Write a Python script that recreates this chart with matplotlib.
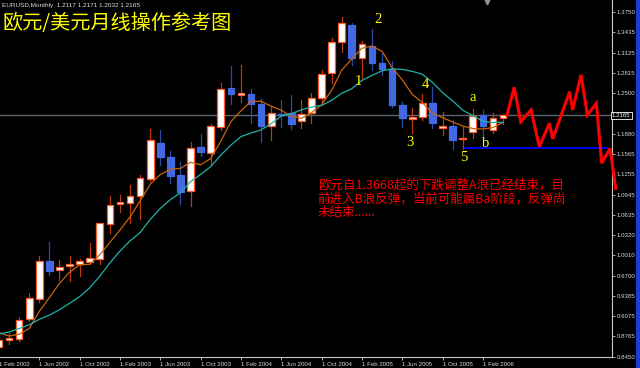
import matplotlib
matplotlib.use("Agg")
import matplotlib.pyplot as plt
from matplotlib.patches import Rectangle

######################################################################
# data (month 0 = Feb 2002)
######################################################################

months = list(range(51))
opens = [0.8610, 0.8712, 0.8732, 0.9030, 0.9337, 0.9930, 0.9780, 0.9850, 0.9880, 0.9915,
         0.9956, 1.0500, 1.0796, 1.0820, 1.0928, 1.1190, 1.1733, 1.1528, 1.1246, 1.0996,
         1.1673, 1.1590, 1.1988, 1.2578, 1.2474, 1.2494, 1.2330, 1.1999, 1.2178, 1.2194,
         1.2080, 1.2194, 1.2434, 1.2809, 1.3284, 1.3550, 1.3048, 1.3228, 1.2971, 1.2870,
         1.2322, 1.2102, 1.2133, 1.2347, 1.1964, 1.1999, 1.1795, 1.1902, 1.2168, 1.1938,
         1.2117]
highs = [0.8750, 0.8820, 0.9070, 0.9434, 1.0007, 1.0222, 0.9940, 1.0007, 0.9960, 1.0202,
         1.0510, 1.0924, 1.0939, 1.1093, 1.1240, 1.1950, 1.1937, 1.1620, 1.1440, 1.1750,
         1.1876, 1.2030, 1.2664, 1.2920, 1.2930, 1.2563, 1.2409, 1.2296, 1.2397, 1.2475,
         1.2398, 1.2510, 1.2859, 1.3346, 1.3678, 1.3586, 1.3300, 1.3484, 1.3116, 1.2990,
         1.2363, 1.2276, 1.2491, 1.2603, 1.2219, 1.2084, 1.1990, 1.2260, 1.2245, 1.2203,
         1.2171]
lows = [0.8570, 0.8650, 0.8700, 0.9000, 0.9300, 0.9710, 0.9634, 0.9620, 0.9700, 0.9880,
        0.9880, 1.0350, 1.0680, 1.0504, 1.0566, 1.1150, 1.1400, 1.1120, 1.0796, 1.0770,
        1.1540, 1.1400, 1.1940, 1.2337, 1.2370, 1.2050, 1.1758, 1.1780, 1.1988, 1.1950,
        1.1970, 1.2040, 1.2348, 1.2660, 1.3140, 1.2936, 1.2730, 1.2860, 1.2782, 1.2290,
        1.1990, 1.1887, 1.2090, 1.1965, 1.1860, 1.1640, 1.1650, 1.1810, 1.1835, 1.1887,
        1.2032]
closes = [0.8712, 0.8747, 0.9019, 0.9352, 0.9925, 0.9776, 0.9830, 0.9880, 0.9920, 0.9966,
          1.0504, 1.0786, 1.0827, 1.0928, 1.1195, 1.1784, 1.1528, 1.1236, 1.0990, 1.1666,
          1.1595, 1.2004, 1.2567, 1.2486, 1.2499, 1.2337, 1.1999, 1.2194, 1.2168, 1.2030,
          1.2190, 1.2434, 1.2798, 1.3284, 1.3576, 1.3048, 1.3258, 1.2971, 1.2875, 1.2322,
          1.2117, 1.2133, 1.2347, 1.2040, 1.1999, 1.1784, 1.1819, 1.2157, 1.2000, 1.2117,
          1.2165]

# moving averages as drawn (orange fast, teal slow)
ma_fast = [0.8824, 0.8772, 0.8798, 0.8888, 0.9151, 0.9364, 0.9580, 0.9753, 0.9866, 0.9874,
           1.0020, 1.0211, 1.0401, 1.0602, 1.0848, 1.1104, 1.1252, 1.1334, 1.1347, 1.1441,
           1.1403, 1.1498, 1.1764, 1.2064, 1.2230, 1.2379, 1.2378, 1.2303, 1.2239, 1.2146,
           1.2116, 1.2203, 1.2324, 1.2547, 1.2856, 1.3028, 1.3193, 1.3227, 1.3146, 1.2895,
           1.2709, 1.2484, 1.2359, 1.2192, 1.2127, 1.2061, 1.1998, 1.1960, 1.1952, 1.1975,
           1.2052]
ma_slow = [0.8805, 0.8834, 0.8887, 0.8946, 0.9028, 0.9094, 0.9176, 0.9275, 0.9377, 0.9513,
           0.9692, 0.9896, 1.0077, 1.0234, 1.0361, 1.0562, 1.0732, 1.0867, 1.0974, 1.1144,
           1.1254, 1.1375, 1.1549, 1.1705, 1.1836, 1.1891, 1.1938, 1.2034, 1.2152, 1.2188,
           1.2247, 1.2290, 1.2314, 1.2393, 1.2501, 1.2572, 1.2698, 1.2776, 1.2846, 1.2876,
           1.2868, 1.2838, 1.2793, 1.2669, 1.2511, 1.2385, 1.2241, 1.2159, 1.2072, 1.2051,
           1.2056]

# hand drawn forecast zigzag and support line
proj_m = [50.4, 51.1, 51.76, 52.78, 53.6, 54.6, 54.93, 56.6, 56.9, 57.74, 58.37, 59.26, 59.79, 60.62, 61.18]
proj_p = [1.2168, 1.2593, 1.2065, 1.2245, 1.1681, 1.2040, 1.1799, 1.2526, 1.2245, 1.2782,
          1.2168, 1.2348, 1.1426, 1.1656, 1.1040]
support_m = [46.2, 60.3]
support_p = [1.1656, 1.1656]

wave_labels = ["1", "2", "3", "4", "5", "a", "b"]
wave_m = [35.7, 37.63, 40.77, 42.29, 46.06, 46.96, 48.31]
wave_p = [1.2675, 1.3638, 1.1738, 1.2629, 1.1518, 1.2435, 1.1722]

xtick_m = [0, 4, 8, 12, 16, 20, 24, 28, 32, 36, 40, 44, 48]
xtick_labels = ["1 Feb 2002", "1 Jun 2002", "1 Oct 2002", "1 Feb 2003", "1 Jun 2003",
                "1 Oct 2003", "1 Feb 2004", "1 Jun 2004", "1 Oct 2004", "1 Feb 2005",
                "1 Jun 2005", "1 Oct 2005", "1 Feb 2006"]
ytick_vals = [1.3750, 1.3435, 1.3125, 1.2815, 1.2500, 1.1880, 1.1565, 1.1255, 1.0945,
              1.0635, 1.0320, 1.0010, 0.9700, 0.9385, 0.9075, 0.8765, 0.8450]
last_price = 1.2165

note_lines = ["欧元自1.3668起的下跌调整A浪已经结束，目",
              "前进入B浪反弹，当前可能属Ba阶段，反弹尚",
              "未结束......"]

######################################################################
# figure
######################################################################

plt.rcParams['font.family'] = ['Liberation Sans', 'DejaVu Sans']

fig = plt.figure(figsize=(6.4, 3.68), dpi=100, facecolor='black')
ax = fig.add_axes([-1/640, 11/368, 613/640, 357/368])
ax.set_facecolor('black')
ax.set_xlim(0, 60.81)
ax.set_ylim(0.845, 1.3934)

# current price line
ax.axhline(last_price, color='#5a6470', lw=1.0, zorder=1)

# candles
w = 0.66
for m, o, h, l, c in zip(months, opens, highs, lows, closes):
    if c >= o:
        ax.plot([m, m], [l, h], color='#c0380c', lw=0.9, zorder=2)
        ax.add_patch(Rectangle((m - w/2, o), w, max(c - o, 0.002), fc='white',
                               ec='#ff5a28', lw=0.9, zorder=3))
    else:
        ax.plot([m, m], [l, h], color='#2c4aa8', lw=0.9, zorder=2)
        ax.add_patch(Rectangle((m - w/2, c), w, max(o - c, 0.002), fc='#4169e1',
                               ec='#4169e1', lw=0.9, zorder=3))

ax.plot(months, ma_fast, color='#c8640c', lw=0.9, zorder=4)
ax.plot(months, ma_slow, color='#20b2aa', lw=0.9, zorder=4)

ax.plot(support_m, support_p, color='#0000ff', lw=1.3, zorder=5)
ax.plot(proj_m, proj_p, color='#ff0000', lw=2.2, zorder=6, clip_on=False,
        solid_joinstyle='miter')

for t, m, p in zip(wave_labels, wave_m, wave_p):
    ax.text(m, p, t, color='#ffff00', fontsize=10.5, family='Liberation Serif',
            ha='center', va='center', zorder=7)

note_y = [1.1093, 1.0873, 1.0667]
for line, y in zip(note_lines, note_y):
    ax.text(31.62, y, line, color='#ff0000', fontsize=9, family=['Noto Sans CJK SC'],
            ha='left', va='center', zorder=7)

# axes styling like the terminal
for s in ['left', 'top']:
    ax.spines[s].set_visible(False)
ax.spines['right'].set_color('#c8c8c8')
ax.spines['bottom'].set_color('#c8c8c8')
ax.spines['right'].set_linewidth(0.8)
ax.spines['bottom'].set_linewidth(0.8)

ax.yaxis.tick_right()
ax.set_yticks(ytick_vals)
ax.set_yticklabels(["%.4f" % v for v in ytick_vals])
ax.set_xticks(xtick_m)
ax.set_xticklabels(xtick_labels, ha='left')
ax.tick_params(axis='both', colors='#c8c8c8', labelcolor='#d8d8d8', labelsize=4.4,
               length=2.5, width=0.6, pad=1)

ax.text(1.0, last_price, "%.4f" % last_price, transform=ax.get_yaxis_transform(),
        color='white', fontsize=4.4, ha='left', va='center',
        bbox=dict(fc='black', ec='white', lw=0.6, pad=0.8), zorder=8, clip_on=False)

# chart shift marker
ax.plot([48.4], [1.391], marker='v', color='#909090', ms=3.5, clip_on=False)

# title and header
fig.text(2/640, 1 - 5/368, "EURUSD,Monthly  1.2117 1.2171 1.2032 1.2165", color='#e0e0e0',
         fontsize=4.6, ha='left', va='center')
fig.text(3/640, 1 - 24/368, "欧元/美元月线操作参考图", color='#ffff00', fontsize=14.5,
         family=['Noto Sans CJK SC'], ha='left', va='center')

# window frame on the right
fig.patches.append(Rectangle((636/640, 0), 4/640, 1, transform=fig.transFigure,
                             fc='#1e3cd2', ec='none'))

fig.savefig("out.png", dpi=100, facecolor='black')
